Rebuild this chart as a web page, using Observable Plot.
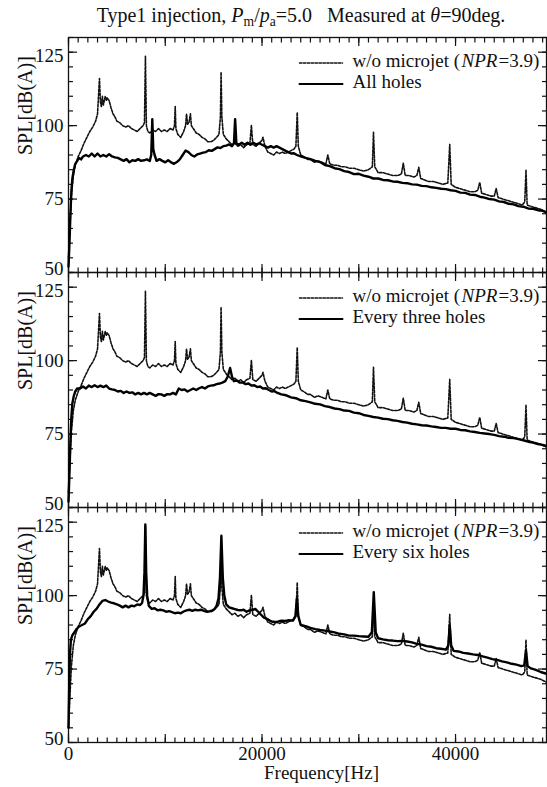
<!DOCTYPE html>
<html>
<head>
<meta charset="utf-8">
<script src="https://cdn.jsdelivr.net/npm/d3@7"></script>
<script src="https://cdn.jsdelivr.net/npm/@observablehq/plot@0.6"></script>
<style>
  html, body { margin: 0; padding: 0; background: #fff; }
  #title { width: 547px; box-sizing: border-box; padding-left: 55px; height: 30px; line-height: 30px;
           text-align: center; font-family: "Liberation Serif", serif; font-size: 20px; color: #111; white-space: nowrap; }
  #title sub { font-size: 0.68em; line-height: 0; vertical-align: -0.3em; }
</style>
</head>
<body>
<div id="title">Type1 injection, <i>P</i><sub>m</sub>/<i>p</i><sub>a</sub>=5.0&nbsp;&nbsp;&nbsp;Measured at <i>θ</i>=90deg.</div>
<div id="chart"></div>
<script>
// Panels (facets) = microjet configurations
const panels = ["All holes", "Every three holes", "Every six holes"];
const baseLabel = "w/o microjet (";
const baseLabelItalic = "NPR";
const baseLabelEnd = "=3.9)";
const yLabel = "SPL[dB(A)]";
const xLabel = "Frequency[Hz]";
const xLabelTicks = [0, 20000, 40000];
const yLabelTicks = [50, 75, 100, 125];

// w/o microjet (NPR=3.9): [frequency Hz, SPL dB(A)]
const woMicrojet = [[0,55],[150,66],[300,76],[500,83],[700,86.5],[1000,89.5],[1300,91.5],[1600,94],[1900,96],[2200,98],[2500,99.5],[2800,101.5],[3000,104],[3100,110],[3200,116],[3300,108],[3400,106.5],[3500,110],[3600,107],[3700,108.5],[3800,110],[3900,108.5],[4000,109.5],[4200,108.5],[4400,106],[4600,104],[4800,103],[5000,101.5],[5300,101],[5600,100],[5900,99.5],[6200,100],[6500,99],[6800,98.5],[7100,98],[7400,99],[7700,100],[7850,101],[7950,123.6],[8050,100],[8200,98],[8400,97.5],[8700,98.5],[9000,98],[9300,99],[9600,98],[9900,98.5],[10200,98],[10500,99],[10800,98.5],[10950,100],[11030,106.5],[11100,99],[11300,97],[11600,96],[11900,98],[12100,100],[12200,104],[12300,100.5],[12450,101],[12600,104],[12700,100],[12900,99],[13200,97.5],[13500,97],[13800,96],[14100,95.5],[14400,94.5],[14700,94.5],[15000,95],[15300,96],[15550,97],[15700,103],[15770,118.2],[15850,103],[16000,97],[16300,95.5],[16600,94.5],[16900,93.5],[17200,94],[17500,93],[17800,93.5],[18100,92.5],[18400,93.5],[18750,94],[18900,100.1],[19050,93.5],[19400,93],[19700,94],[20000,95],[20100,96],[20300,93],[20600,91],[20900,90.5],[21200,90],[21500,91],[21800,90.5],[22100,91],[22400,90.5],[22700,91],[23000,91.5],[23300,92],[23500,93],[23640,104.5],[23750,93],[24000,90],[24300,89.5],[24700,88.5],[25000,88.5],[25400,87.5],[25800,88],[26200,87.5],[26600,87],[26800,90],[27000,87],[27400,86.5],[27800,86.5],[28200,86],[28600,86],[29000,85.5],[29500,85.5],[30000,85],[30500,84.5],[31000,85],[31400,86],[31520,97.7],[31650,86],[32000,84],[32500,84],[33000,83.5],[33500,83],[34000,83],[34400,83.5],[34600,87.2],[34800,83],[35200,83],[35700,82.5],[36000,83],[36200,85.8],[36400,82],[36800,81.5],[37200,81],[37700,81],[38200,80.5],[38700,80],[39200,80.5],[39400,93.6],[39550,80],[40000,79],[40500,78.5],[41000,78],[41500,77.5],[42000,77.5],[42300,78],[42500,80.7],[42700,77],[43200,76.5],[43700,76],[44000,76],[44200,78.6],[44400,75.5],[44900,75],[45400,74.5],[45900,74],[46400,73.5],[46900,73],[47150,74],[47280,84.8],[47400,73],[47800,72.5],[48300,72],[48800,71.5],[49400,70.5]];

// All holes
const allHoles = [[0,52],[100,60],[200,70],[300,78],[400,82],[550,85],[700,87],[900,88],[1100,89],[1300,88.5],[1500,89.5],[1800,90],[2100,89.5],[2400,90.5],[2700,89.5],[3000,90.5],[3300,89.5],[3600,90],[3900,89.5],[4200,90.3],[4500,89.5],[4800,89.2],[5100,89],[5400,88.5],[5700,88],[6000,88.6],[6300,87.5],[6600,88.2],[6900,88],[7200,88.6],[7500,88],[7800,88.2],[8100,88.5],[8400,88],[8550,90],[8660,102.2],[8760,92],[8900,90],[9100,88],[9400,88.6],[9700,88],[10000,87.5],[10300,88.2],[10600,87.5],[10900,87],[11200,87.6],[11500,88.5],[11800,90],[12100,91.5],[12400,91],[12700,90],[13000,89.5],[13300,90.2],[13600,90.5],[13900,90.8],[14200,91],[14500,91.6],[14800,91.4],[15100,92],[15400,92.6],[15700,92.4],[16000,93],[16300,93.2],[16600,93.6],[16900,93],[17100,94],[17220,102.2],[17350,94],[17600,93.5],[17900,94.2],[18200,93.5],[18500,94.2],[18800,93.5],[19100,94.2],[19400,93.6],[19700,94],[20000,93.5],[20300,93],[20600,92.5],[20900,93],[21200,92.5],[21500,93],[21800,92.5],[22100,92],[22400,91.5],[22700,91],[23000,90.5],[23300,90.6],[23600,90],[24000,89.5],[24500,89],[25000,88.6],[25500,88],[26000,87.6],[26500,86.6],[27000,86.2],[27500,85.5],[28000,85.2],[28500,84.5],[29000,84.2],[29500,83.5],[30000,83.6],[30500,83],[31000,82.6],[31500,82],[32000,82],[32500,81.5],[33000,81.4],[33500,81],[34000,80.9],[34500,80.5],[35000,80.4],[35500,80],[36000,79.9],[36500,79.5],[37000,79.4],[37500,79],[38000,78.8],[38500,78.5],[39000,78.4],[39500,78],[40000,77.8],[40500,77.2],[41000,77.1],[41500,76.5],[42000,76.4],[42500,75.8],[43000,75.5],[43500,75],[44000,74.8],[44500,74.2],[45000,74],[45500,73.4],[46000,73.2],[46500,72.6],[47000,72.4],[47500,71.8],[48000,71.7],[48500,71.2],[49000,71],[49400,70.5]];

// Every three holes
const everyThree = [[0,52],[100,62],[200,73],[300,81],[400,85.5],[550,88],[700,89.5],[900,90.5],[1200,90.5],[1500,91.2],[1800,90.5],[2100,91.5],[2400,91],[2700,91.6],[3000,91],[3300,91.5],[3600,91],[3900,91.5],[4200,90.5],[4500,90.2],[4800,90],[5100,89.5],[5400,89.7],[5700,89],[6000,89.5],[6300,89],[6600,89.2],[6900,88.5],[7200,89],[7500,88.5],[7800,89],[8100,88.5],[8400,89],[8700,88.5],[9000,88],[9300,88.6],[9600,88.5],[9900,88],[10200,88.6],[10500,88.5],[10800,89],[11100,88.5],[11400,90.5],[11700,90],[12000,90.2],[12300,89.5],[12600,90],[12900,90.5],[13200,90],[13500,90.6],[13800,91],[14100,90.5],[14400,91.2],[14700,91.5],[15000,91.6],[15300,92],[15600,92.2],[15900,92.5],[16200,93],[16450,94.5],[16700,97.5],[16900,94.5],[17100,93],[17400,93.2],[17700,92.5],[18000,92.6],[18300,92],[18600,92.2],[18900,91.5],[19200,91.6],[19500,91],[19800,91.2],[20100,90.5],[20400,90.6],[20700,90],[21000,89.5],[21300,89.6],[21600,89],[22000,88.5],[22500,88.2],[23000,87.5],[23500,87.2],[24000,86.5],[24500,86.2],[25000,85.8],[25500,85.3],[26000,85.1],[26500,84.5],[27000,84.2],[27500,83.7],[28000,83.5],[28500,83],[29000,82.9],[29500,82.3],[30000,82.1],[30500,81.5],[31000,81.2],[31500,80.8],[32000,80.6],[32500,80.2],[33000,80.1],[33500,79.7],[34000,79.5],[34500,79.1],[35000,78.9],[35500,78.5],[36000,78.3],[36500,78],[37000,77.9],[37500,77.6],[38000,77.4],[38500,77.1],[39000,77.1],[39500,76.8],[40000,76.8],[40500,76.4],[41000,76.3],[41500,75.9],[42000,75.7],[42500,75.4],[43000,75.2],[43500,75],[44000,74.7],[44500,74.3],[45000,74.1],[45500,73.7],[46000,73.6],[46500,73.3],[47000,72.9],[47500,72.4],[48000,72.1],[48500,71.6],[49000,71.3],[49400,71]];

// Every six holes
const everySix = [[0,55],[80,70],[150,80],[250,85],[400,86.5],[600,87.5],[800,88.5],[1100,89.5],[1400,90],[1700,90.5],[2000,92],[2300,93],[2600,94.5],[2900,95.5],[3200,97],[3500,98.2],[3800,98.5],[4100,98],[4400,97.6],[4700,97.4],[5000,97],[5300,96.6],[5600,96],[5900,96.6],[6200,96],[6500,96.6],[6800,96.4],[7100,97],[7400,96.8],[7600,97.5],[7750,100],[7850,108],[7940,124.2],[8030,108],[8130,100],[8300,96.5],[8600,95.5],[8900,95.7],[9200,95],[9500,95.2],[9800,95],[10100,94.5],[10400,94.7],[10700,94.4],[11000,94],[11300,94.2],[11600,94],[11900,94.6],[12200,95],[12500,95.2],[12800,94.8],[13100,95.2],[13400,95],[13700,95.2],[14000,94.8],[14300,94.5],[14600,94.7],[14900,95],[15100,95.5],[15300,96.5],[15500,99],[15650,106],[15800,120.4],[15950,106],[16100,100],[16300,97],[16600,96],[16900,95.7],[17200,95.4],[17500,95.1],[17800,95],[18100,95.2],[18400,94.5],[18700,95],[19000,95.1],[19300,95.5],[19600,94.5],[19900,93.5],[20200,92.5],[20500,92.1],[20800,91.5],[21100,91.1],[21400,91],[21700,91.2],[22000,91.5],[22400,91.4],[22800,91.6],[23200,91.5],[23450,93],[23600,99],[23750,93],[24000,90],[24500,89.6],[25000,89],[25500,88.6],[26000,88.3],[26500,88.1],[27000,87.8],[27500,87.5],[28000,87],[28500,86.8],[29000,86.4],[29500,86.4],[30000,86.2],[30500,86.1],[31000,86],[31350,87.5],[31550,101.2],[31750,87.5],[32000,85.5],[32500,85.1],[33000,84.8],[33500,84.7],[34000,84.5],[34500,84.6],[35000,84.4],[35500,84.1],[36000,83.6],[36500,83.3],[37000,82.8],[37500,82.6],[38000,82.1],[38500,81.9],[39000,81.6],[39250,83],[39400,89.9],[39550,83],[39800,81.2],[40300,81],[40800,80.5],[41300,80.3],[41800,80],[42300,79.8],[42800,79.3],[43300,78.9],[43800,78.4],[44300,78.1],[44800,77.6],[45300,77.3],[45800,76.8],[46300,76.5],[46800,76],[47100,76.3],[47280,81.3],[47450,76],[47800,75.2],[48300,74.7],[48800,74],[49400,73.4]];

const variants = {"All holes": allHoles, "Every three holes": everyThree, "Every six holes": everySix};

const dashedRows = panels.flatMap(p => woMicrojet.map(([f, v]) => ({panel: p, f, v})));
const solidRows = panels.flatMap(p => variants[p].map(([f, v]) => ({panel: p, f, v})));

const xMajor = d3.range(0, 50000, 10000);
const xMinor = d3.range(0, 50000, 1000);
const yMajor = yLabelTicks;
const yMinor = d3.range(50, 131, 5);

const font = "Liberation Serif";
const hSeg = {draw(context, l) { context.moveTo(0, 0); context.lineTo(0, -l); }};

const tickOnly = {fill: "none", tickFormat: () => "", label: null, strokeWidth: 1.2};
const yLab = {anchor: "left", tickSize: 0, tickPadding: 5, label: null, fontSize: 19};
const legText = {fy: d => d, frameAnchor: "top-left", textAnchor: "start", lineAnchor: "middle", fontSize: 19};

const chart = Plot.plot({
  width: 547,
  height: 757,
  marginLeft: 68,
  marginRight: 1,
  marginTop: 6,
  marginBottom: 44,
  style: {fontFamily: font, fontSize: "20px", color: "#111", background: "#fff"},
  x: {domain: [0, 49400]},
  y: {domain: [50, 130]},
  fy: {domain: panels, padding: 0, axis: null},
  marks: [
    // inward ticks on all four sides of every panel
    Plot.axisX(xMinor, {anchor: "bottom", facetAnchor: null, tickSize: -4.5, ...tickOnly}),
    Plot.axisX(xMajor, {anchor: "bottom", facetAnchor: null, tickSize: -8, ...tickOnly}),
    Plot.axisX(xMinor, {anchor: "top", facetAnchor: null, tickSize: -4.5, ...tickOnly}),
    Plot.axisX(xMajor, {anchor: "top", facetAnchor: null, tickSize: -8, ...tickOnly}),
    Plot.axisY(yMinor, {anchor: "left", tickSize: -5, ...tickOnly}),
    Plot.axisY(yMajor, {anchor: "left", tickSize: -9, ...tickOnly}),
    Plot.axisY(yMinor, {anchor: "right", tickSize: -5, ...tickOnly}),
    Plot.axisY(yMajor, {anchor: "right", tickSize: -9, ...tickOnly}),
    // tick labels
    Plot.axisY(yLabelTicks.filter(v => v === 50), {...yLab, dy: -3.5}),
    Plot.axisY(yLabelTicks.filter(v => v > 50 && v < 125), yLab),
    Plot.axisY(yLabelTicks.filter(v => v === 125), {...yLab, dy: 3.5}),
    Plot.axisX(xLabelTicks, {anchor: "bottom", tickSize: 0, tickPadding: 4, label: null, tickFormat: d => String(d), fontSize: 19}),
    Plot.frame({strokeWidth: 1.3}),
    // spectra
    Plot.line(dashedRows, {x: "f", y: "v", fy: "panel", stroke: "#111", strokeWidth: 1.6, strokeDasharray: "2.4,1.5"}),
    Plot.line(solidRows, {x: "f", y: "v", fy: "panel", stroke: "#000", strokeWidth: 2.4}),
    // y-axis title per panel
    Plot.text(panels, {fy: d => d, text: () => yLabel, frameAnchor: "left", dx: -43, rotate: -90, fontSize: 20}),
    // x-axis title (bottom panel only)
    Plot.text([panels[2]], {fy: d => d, text: () => xLabel, frameAnchor: "bottom", dx: 14, dy: 36, fontSize: 19}),
    // legends
    Plot.vector(panels, {fy: d => d, frameAnchor: "top-left", dx: 231, dy: 25.5, length: 43, rotate: 90, anchor: "start", shape: hSeg, stroke: "#111", strokeWidth: 1.5, strokeDasharray: "2.4,1.5"}),
    Plot.vector(panels, {fy: d => d, frameAnchor: "top-left", dx: 231, dy: 46.5, length: 43, rotate: 90, anchor: "start", shape: hSeg, stroke: "#000", strokeWidth: 2}),
    Plot.text(panels, {...legText, text: () => baseLabel, dx: 284, dy: 23.5}),
    Plot.text(panels, {...legText, text: () => baseLabelItalic, dx: 393, dy: 23.5, fontStyle: "italic"}),
    Plot.text(panels, {...legText, text: () => baseLabelEnd, dx: 430, dy: 23.5}),
    Plot.text(panels, {...legText, text: d => d, dx: 284, dy: 44.5})
  ]
});
document.getElementById("chart").appendChild(chart);
</script>
</body>
</html>
